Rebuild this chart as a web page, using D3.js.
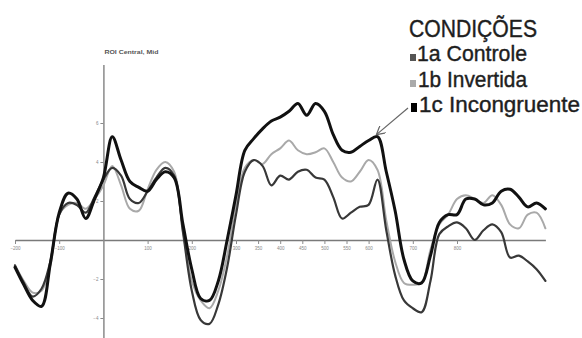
<!DOCTYPE html>
<html>
<head>
<meta charset="utf-8">
<script src="https://cdn.jsdelivr.net/npm/d3@7"></script>
<style>
  html, body { margin: 0; padding: 0; background: #fff; }
  svg { display: block; }
</style>
</head>
<body>
<svg id="chart" width="582" height="338"></svg>
<script>
// Time points (ms)
const times = [-200,-180,-160,-140,-120,-100,-80,-60,-40,-20,0,20,40,60,80,100,120,140,160,180,200,220,240,260,280,300,320,340,360,380,400,420,440,460,480,500,520,540,560,580,600,620,640,660,680,700,720,740,760,780,800,820,840,860,880,900,920,940,960,980,1000];

// 1a Controle (µV)
const controle = [-1.3,-2.2,-2.9,-2.5,-1.1,1.3,1.9,1.8,1.4,2.2,3.1,3.7,3.3,2.1,1.9,2.5,3.2,3.7,3.3,0.4,-2.6,-4.1,-4.3,-3.3,-1.4,1.3,3.5,4.1,3.8,2.8,3.3,3.1,3.5,3.6,3.2,3.1,2.2,1.1,1.4,1.7,1.8,3.1,0.5,-1.8,-3.1,-3.5,-3.7,-2.1,0.3,0.7,0.9,0.6,0.0,0.5,0.8,0.4,-0.9,-0.8,-1.1,-1.5,-2.1];

// 1b Invertida (µV)
const invertida = [-1.3,-2.1,-2.7,-2.6,-1.3,1.3,1.8,1.9,1.6,2.1,2.8,3.8,2.8,1.6,1.5,2.6,3.6,4.0,3.5,0.5,-2.1,-3.1,-3.5,-2.6,-0.8,1.8,3.7,4.1,3.9,4.4,4.7,5.1,4.6,4.4,4.5,4.7,4.0,3.2,3.0,3.5,4.1,3.6,1.0,-1.1,-2.2,-2.3,-2.2,-0.5,0.8,1.3,2.1,2.3,2.1,1.9,2.3,1.8,0.8,0.6,1.3,1.4,0.6];

// 1c Incongruente (µV)
const incongruente = [-1.4,-2.3,-3.1,-3.4,-1.2,1.4,2.4,2.1,1.1,2.1,3.2,5.3,4.1,3.0,2.7,2.5,3.1,3.5,3.2,0.8,-1.5,-3.0,-3.1,-2.1,0.0,2.3,4.6,5.2,5.7,6.1,6.3,6.6,7.0,6.4,7.0,6.6,5.4,4.6,4.5,4.8,5.1,5.3,3.5,1.5,-1.0,-2.1,-2.2,-0.8,0.9,1.3,1.3,2.1,2.1,1.8,1.9,2.5,2.6,2.2,1.7,1.9,1.6];

const xTickValues = [-200,-100,100,200,300,350,400,450,500,550,600,700,800];
const yTickValues = [-4,-2,2,4,6];
const legendTitle = "CONDIÇÕES";
const seriesNames = ["1a Controle","1b Invertida","1c Incongruente"];
const chartTitle = "ROI Central, Mid";

const svg = d3.select("#chart");

const x = d3.scaleLinear().domain([-200, 1000]).range([15, 545.4]);
const y = d3.scaleLinear().domain([-5, 9]).range([337.5, 64.5]);

// X axis at zero
const xAxis = d3.axisBottom(x)
  .tickValues(xTickValues)
  .tickSize(4)
  .tickSizeOuter(0)
  .tickPadding(3)
  .tickFormat(d3.format("d"));
const gx = svg.append("g")
  .attr("transform", `translate(0,${y(0)})`)
  .call(xAxis);
gx.select(".domain").attr("stroke", "#7a7a7a").attr("stroke-width", 1.6);
gx.selectAll(".tick line").attr("stroke", "#8a8a8a").attr("stroke-width", 1);
gx.selectAll(".tick text").attr("fill", "#888").attr("font-size", 4.5)
  .attr("font-family", "Liberation Sans, Arial, sans-serif");

// Y axis at time zero
const yAxis = d3.axisLeft(y)
  .tickValues(yTickValues)
  .tickSize(3)
  .tickSizeOuter(0)
  .tickPadding(2)
  .tickFormat(d3.format("d"));
const gy = svg.append("g")
  .attr("transform", `translate(${x(0)},0)`)
  .call(yAxis);
gy.select(".domain").attr("stroke", "#8a8a8a").attr("stroke-width", 1.5);
gy.selectAll(".tick line").attr("stroke", "#8a8a8a").attr("stroke-width", 1);
gy.selectAll(".tick text").attr("fill", "#888").attr("font-size", 4.5)
  .attr("font-family", "Liberation Sans, Arial, sans-serif");

// Small title above the y axis
svg.append("text")
  .attr("x", x(0) + 1)
  .attr("y", 54)
  .attr("font-family", "Liberation Sans, Arial, sans-serif")
  .attr("font-size", 5)
  .attr("font-weight", "bold")
  .attr("fill", "#555")
  .attr("textLength", 54)
  .attr("lengthAdjust", "spacingAndGlyphs")
  .text(chartTitle);

// Lines
const line = d3.line()
  .x((d, i) => x(times[i]))
  .y(d => y(d))
  .curve(d3.curveCatmullRom.alpha(0.5));

const series = [
  { values: invertida, color: "#a9a9a9", width: 2 },
  { values: controle, color: "#383838", width: 2.2 },
  { values: incongruente, color: "#111", width: 3 }
];
svg.append("g").selectAll("path")
  .data(series)
  .join("path")
  .attr("d", s => line(s.values))
  .attr("fill", "none")
  .attr("stroke", s => s.color)
  .attr("stroke-width", s => s.width)
  .attr("stroke-linejoin", "round")
  .attr("stroke-linecap", "round");

// Legend
const font = "Liberation Sans, Arial, sans-serif";
svg.append("text")
  .attr("x", 409).attr("y", 37)
  .attr("font-family", font).attr("font-size", 23)
  .attr("fill", "#1e1e1e")
  .attr("stroke", "#1e1e1e").attr("stroke-width", 0.4)
  .attr("textLength", 128).attr("lengthAdjust", "spacingAndGlyphs")
  .text(legendTitle);

const legendItems = [
  { name: seriesNames[0], color: "#555", sq: [410, 54, 6, 7], tx: 417, ty: 61, tl: 110 },
  { name: seriesNames[1], color: "#aaa", sq: [410, 80, 6, 7], tx: 418, ty: 87, tl: 109 },
  { name: seriesNames[2], color: "#000", sq: [411, 103, 6, 9], tx: 419, ty: 112, tl: 161 }
];
const lg = svg.append("g");
legendItems.forEach(it => {
  lg.append("rect")
    .attr("x", it.sq[0]).attr("y", it.sq[1])
    .attr("width", it.sq[2]).attr("height", it.sq[3])
    .attr("fill", it.color);
  lg.append("text")
    .attr("x", it.tx).attr("y", it.ty)
    .attr("font-family", font).attr("font-size", 22)
    .attr("fill", "#1e1e1e")
    .attr("stroke", "#1e1e1e").attr("stroke-width", 0.4)
    .attr("textLength", it.tl).attr("lengthAdjust", "spacingAndGlyphs")
    .text(it.name);
});

// Arrow pointing to the incongruent curve peak
const defs = svg.append("defs");
defs.append("marker")
  .attr("id", "arrow")
  .attr("viewBox", "0 0 10 10")
  .attr("refX", 9).attr("refY", 5)
  .attr("markerWidth", 8).attr("markerHeight", 8)
  .attr("orient", "auto")
  .append("path")
  .attr("d", "M0,0 L9,5 L0,10")
  .attr("fill", "none")
  .attr("stroke", "#666")
  .attr("stroke-width", 1.3);
svg.append("line")
  .attr("x1", 408).attr("y1", 108)
  .attr("x2", x(620) - 1).attr("y2", y(5.3) - 2)
  .attr("stroke", "#666")
  .attr("stroke-width", 1.2)
  .attr("marker-end", "url(#arrow)");
</script>
</body>
</html>
